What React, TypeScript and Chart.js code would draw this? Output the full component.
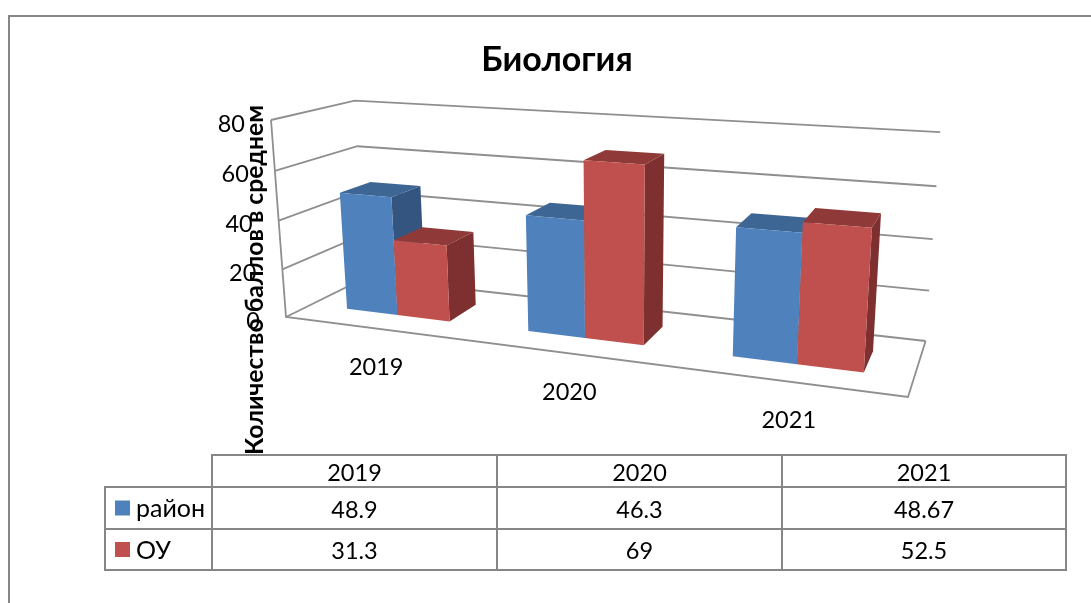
import React, { useEffect, useRef } from "react";
import { Chart, registerables } from "chart.js";

Chart.register(...registerables);

const categories = ["2019", "2020", "2021"];
const rayon = [48.9, 46.3, 48.67];
const ou = [31.3, 69, 52.5];
const seriesNames = ["район", "ОУ"];
const seriesValues = [rayon, ou];
const yTicksMax = 80;
const chartTitle = "Биология";
const yTitle = "Количество баллов в среднем";

const FONT = "Lato, 'Open Sans', sans-serif";
const GRID = "#8f8f8f";
const TABLE = "#868686";
const FACES = [
  { front: "#4f81bd", top: "#3e6695", side: "#34557f" },
  { front: "#c0504d", top: "#8f3a38", side: "#7d302f" },
];

// Projection of the unit box (u along the axis, v up, z depth) to the page.
const O = [286, 317];
const UX = [908, 397];
const UY = [271, 120];
const UZ = [365, 278];
const WX = 0.826;
const WY = 0.957;
const WZ = 1.115;
const project = (u: number, v: number, z: number): [number, number] => {
  const d = 1 + u * (WX - 1) + v * (WY - 1) + z * (WZ - 1);
  const c = (i: number) =>
    (O[i] + u * (WX * UX[i] - O[i]) + v * (WY * UY[i] - O[i]) + z * (WZ * UZ[i] - O[i])) / d;
  return [c(0), c(1)];
};
const Z_FRONT = 0.3;
const Z_BACK = 0.69;

const poly = (ctx: CanvasRenderingContext2D, pts: [number, number][], fill?: string, stroke?: string, lw = 1.8) => {
  ctx.beginPath();
  pts.forEach((p, i) => (i ? ctx.lineTo(p[0], p[1]) : ctx.moveTo(p[0], p[1])));
  if (fill) {
    ctx.closePath();
    ctx.fillStyle = fill;
    ctx.fill();
  }
  if (stroke) {
    ctx.strokeStyle = stroke;
    ctx.lineWidth = lw;
    ctx.stroke();
  }
};

const perspectivePlugin = {
  id: "perspective",
  beforeDatasetsDraw(chart: any) {
    const { ctx, chartArea: a, scales } = chart;
    const yScale = scales.y;
    const uOf = (px: number) => (px - a.left) / (a.right - a.left);
    const vOf = (val: number) => (a.bottom - yScale.getPixelForValue(val)) / (a.bottom - a.top);
    ctx.save();

    // page frame
    poly(ctx, [[9, 603], [9, 16], [1091, 16]], undefined, TABLE, 2);

    // walls, floor, gridlines
    ctx.lineJoin = "miter";
    yScale.ticks.forEach((t: any) => {
      const v = vOf(t.value);
      poly(ctx, [project(0, v, 0), project(0, v, 1), project(1, v, 1)], undefined, GRID);
    });
    poly(ctx, [project(0, 1, 0), project(0, 0, 0), project(1, 0, 0), project(1, 0, 1)], undefined, GRID);

    // bars, left to right, each a box built from the library's bar element
    const metas = seriesValues.map((_, i) => chart.getDatasetMeta(i));
    categories.forEach((_, c) => {
      metas.forEach((meta, s) => {
        const el = meta.data[c];
        const u0 = uOf(el.x - el.width / 2);
        const u1 = uOf(el.x + el.width / 2);
        const v = vOf(seriesValues[s][c]);
        const f = FACES[s];
        const fb = project(u1, 0, Z_BACK);
        poly(ctx, [project(u1, 0, Z_FRONT), fb, project(u1, v, Z_BACK), project(u1, v, Z_FRONT)], f.side);
        poly(ctx, [project(u0, v, Z_FRONT), project(u0, v, Z_BACK), project(u1, v, Z_BACK), project(u1, v, Z_FRONT)], f.top);
        poly(ctx, [project(u0, 0, Z_FRONT), project(u1, 0, Z_FRONT), project(u1, v, Z_FRONT), project(u0, v, Z_FRONT)], f.front);
      });
    });

    // axis labels
    ctx.fillStyle = "#000";
    ctx.textBaseline = "middle";
    ctx.font = `23.5px ${FONT}`;
    ctx.textAlign = "right";
    yScale.ticks.forEach((t: any) => {
      const p = project(0, vOf(t.value), 0);
      ctx.fillText(String(t.value), p[0] - 26, p[1] + 4);
    });
    ctx.textAlign = "center";
    const xScale = scales.x;
    categories.forEach((cat, i) => {
      const p = project(uOf(xScale.getPixelForValue(i)), 0, 0);
      ctx.fillText(cat, p[0] + 2, p[1] + 39);
    });

    // rotated axis title
    ctx.save();
    ctx.translate(255, 280);
    ctx.rotate(-Math.PI / 2);
    ctx.font = `bold 24.7px ${FONT}`;
    ctx.fillText(yTitle, 0, 0);
    ctx.restore();

    // data table
    const colX = [212, 497, 782, 1066];
    const rowY = [455, 487, 529, 570];
    const lx = 105;
    ctx.lineCap = "square";
    poly(ctx, [[colX[0], rowY[0]], [colX[3], rowY[0]]], undefined, TABLE, 2);
    rowY.slice(1).forEach((y) => poly(ctx, [[lx, y], [colX[3], y]], undefined, TABLE, 2));
    colX.forEach((x) => poly(ctx, [[x, rowY[0]], [x, rowY[3]]], undefined, TABLE, 2));
    poly(ctx, [[lx, rowY[1]], [lx, rowY[3]]], undefined, TABLE, 2);
    ctx.font = `23.5px ${FONT}`;
    ctx.fillStyle = "#000";
    ctx.textAlign = "center";
    categories.forEach((cat, i) => {
      ctx.fillText(cat, (colX[i] + colX[i + 1]) / 2, (rowY[0] + rowY[1]) / 2 + 2);
    });
    seriesNames.forEach((name, s) => {
      const cy = (rowY[s + 1] + rowY[s + 2]) / 2;
      ctx.fillStyle = FACES[s].front;
      ctx.fillRect(115, cy - 7.5, 15, 15);
      ctx.fillStyle = "#000";
      ctx.textAlign = "left";
      ctx.font = `25px ${FONT}`;
      ctx.fillText(name, 136, cy + 1);
      ctx.font = `23.5px ${FONT}`;
      ctx.textAlign = "center";
      seriesValues[s].forEach((val, i) => {
        ctx.fillText(String(val), (colX[i] + colX[i + 1]) / 2, cy + 2);
      });
    });

    ctx.restore();
    return false;
  },
};

export default function App() {
  const ref = useRef<HTMLCanvasElement>(null);
  useEffect(() => {
    const chart = new Chart(ref.current as HTMLCanvasElement, {
      type: "bar",
      data: {
        labels: categories,
        datasets: [
          { label: seriesNames[0], data: rayon, backgroundColor: FACES[0].front },
          { label: seriesNames[1], data: ou, backgroundColor: FACES[1].front },
        ],
      },
      options: {
        responsive: false,
        animation: false,
        layout: { padding: { left: 286, right: 263, top: 0, bottom: 286 } },
        datasets: { bar: { categoryPercentage: 0.58, barPercentage: 1 } },
        plugins: {
          legend: { display: false },
          tooltip: { enabled: false },
          title: {
            display: true,
            text: chartTitle,
            fullSize: false,
            color: "#000",
            font: { family: FONT, size: 34, weight: "bold", lineHeight: 1.2 },
            padding: { top: 40, bottom: 39.2 },
          },
        },
        scales: {
          x: { display: false, offset: true },
          y: { display: false, min: 0, max: yTicksMax, ticks: { stepSize: 20 } },
        },
      },
      plugins: [perspectivePlugin],
    } as any);
    return () => chart.destroy();
  }, []);
  return (
    <canvas
      ref={ref}
      width={1091}
      height={603}
      style={{ position: "absolute", left: 0, top: 0, width: 1091, height: 603, display: "block" }}
    />
  );
}
